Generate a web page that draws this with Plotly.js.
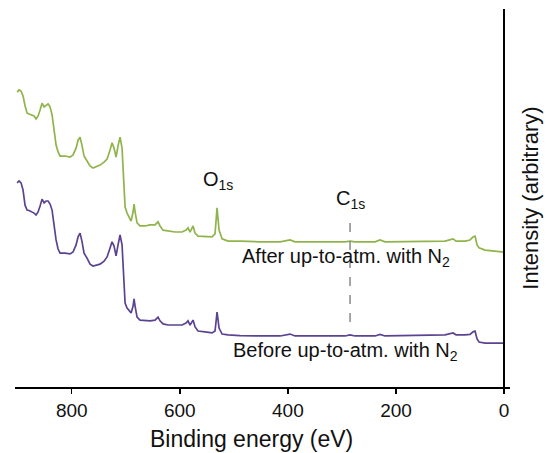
<!DOCTYPE html>
<html>
<head>
<meta charset="utf-8">
<script src="https://cdn.plot.ly/plotly-3.0.1.min.js"></script>
<style>html,body{margin:0;padding:0;background:#fff;}#chart{width:549px;height:453px;}</style>
</head>
<body>
<div id="chart"></div>
<script>
// Binding energy (eV), shared by both spectra
const energy = [901, 897.5, 893.8, 890.1, 886.4, 882.7, 879, 873.4, 869.7, 866, 862.3, 858.6, 854.9, 851.2, 847.5, 843.8, 840.1, 836.4, 832.7, 829, 825.3, 821.6, 812.4, 803.1, 797.6, 792, 788.3, 784.6, 780.9, 777.2, 771.7, 766.1, 760.6, 755, 747.6, 740.2, 734.6, 729.1, 725.4, 721.7, 718, 714.3, 710.6, 706.9, 705, 703.2, 701.3, 697.6, 693.9, 690.2, 686.5, 684.7, 682.8, 679.1, 673.6, 664.3, 655.1, 645.8, 640.3, 636.6, 631, 621.8, 608.8, 595.9, 588.5, 584.8, 581.1, 575.5, 571.8, 566.3, 553.3, 540.3, 534.8, 531.1, 527.4, 521.8, 510.7, 488.5, 451.5, 414.5, 396, 386.8, 340.5, 294.3, 285, 275.8, 238.7, 229.5, 220.2, 155.4, 109.2, 94.4, 88.8, 72.2, 63, 57.4, 53.7, 50, 46.3, 35.2, 16.7, 0];

// Intensity (arbitrary units, offset for display)
const afterN2 = [78.0, 78.6, 78.3, 77.0, 74.4, 72.5, 72.2, 72.0, 71.7, 70.9, 71.7, 73.3, 75.1, 74.1, 74.6, 74.9, 74.1, 72.0, 68.0, 64.0, 62.2, 61.1, 61.1, 60.8, 61.4, 63.2, 65.3, 66.1, 63.8, 61.1, 59.8, 58.5, 57.9, 58.2, 58.7, 59.5, 60.3, 62.7, 64.6, 63.2, 60.8, 63.8, 66.1, 63.2, 57.4, 49.5, 47.6, 46.0, 45.0, 43.9, 46.3, 48.4, 46.3, 43.4, 42.6, 42.6, 42.9, 42.9, 43.7, 42.6, 41.5, 41.3, 41.0, 41.0, 41.5, 42.1, 41.0, 42.6, 40.7, 39.9, 39.9, 39.7, 40.5, 47.4, 41.5, 39.2, 38.6, 38.6, 38.4, 38.4, 38.9, 38.4, 38.4, 38.4, 38.6, 38.4, 38.4, 38.9, 38.4, 38.5, 38.6, 39.2, 38.6, 38.6, 38.9, 39.7, 39.9, 37.6, 36.8, 36.2, 36.0, 35.7];

const beforeN2 = [54.0, 54.5, 54.0, 52.1, 48.1, 46.8, 46.7, 46.4, 46.0, 45.5, 46.3, 47.9, 49.7, 48.7, 49.2, 49.2, 48.4, 46.8, 42.9, 38.9, 36.5, 35.4, 35.4, 35.2, 35.7, 37.6, 39.7, 40.7, 38.4, 35.4, 34.1, 32.5, 32.0, 32.3, 32.5, 33.3, 34.4, 36.8, 38.4, 37.3, 34.7, 37.6, 40.2, 37.6, 32.3, 23.8, 22.2, 20.9, 20.1, 19.6, 21.4, 23.3, 21.4, 18.5, 17.7, 17.5, 17.5, 17.7, 18.5, 17.5, 16.7, 16.4, 16.4, 16.4, 16.9, 17.5, 16.4, 17.7, 15.9, 14.8, 14.6, 14.3, 14.8, 19.8, 15.6, 14.0, 13.8, 13.6, 13.5, 13.5, 14.0, 13.5, 13.5, 13.5, 13.8, 13.5, 13.5, 13.9, 13.5, 13.6, 13.8, 14.3, 13.8, 13.8, 13.9, 14.6, 14.8, 12.7, 11.9, 11.6, 11.6, 11.6];

const tickValues = [800, 600, 400, 200, 0];
const tickLabels = ["800", "600", "400", "200", "0"];
const xTitle = "Binding energy (eV)";
const yTitle = "Intensity (arbitrary)";
const seriesLabels = ["After up-to-atm. with N<sub>2</sub>", "Before up-to-atm. with N<sub>2</sub>"];
const peakLabels = ["O<sub>1s</sub>", "C<sub>1s</sub>"];
const peakEnergies = [530, 285];
const c1sMarkerRange = [17.2, 44.7];

const green = "#8fb44b";
const purple = "#5b4391";
const font = "Liberation Sans, Arial, sans-serif";

const traces = [
  {x: energy, y: afterN2, type: "scatter", mode: "lines", line: {color: green, width: 1.7}, hoverinfo: "skip"},
  {x: energy, y: beforeN2, type: "scatter", mode: "lines", line: {color: purple, width: 1.7}, hoverinfo: "skip"}
];

const layout = {
  width: 549, height: 453,
  margin: {l: 15, r: 39, t: 9, b: 66},
  paper_bgcolor: "#fff", plot_bgcolor: "#fff",
  showlegend: false,
  font: {family: font, color: "#111"},
  xaxis: {
    range: [905, -11],
    showgrid: false, zeroline: false,
    showline: true, linecolor: "#000", linewidth: 2,
    ticks: "outside", ticklen: 5, tickwidth: 1.5, tickcolor: "#000",
    tickvals: tickValues, ticktext: tickLabels,
    tickfont: {size: 19, family: font, color: "#111"}
  },
  yaxis: {
    range: [0, 100],
    anchor: "free", position: 0.9879, side: "right",
    showgrid: false, zeroline: false,
    showline: true, linecolor: "#000", linewidth: 2,
    ticks: "", showticklabels: false,
    title: {text: yTitle, font: {size: 22, family: font, color: "#111"}, standoff: 18}
  },
  shapes: [{
    type: "line", xref: "x", yref: "y",
    x0: peakEnergies[1], x1: peakEnergies[1], y0: c1sMarkerRange[0], y1: c1sMarkerRange[1],
    line: {color: "#8a8a8a", width: 1.5, dash: "dash"}
  }],
  annotations: [
    {x: 0.478, y: -0.138, xref: "paper", yref: "paper", text: xTitle, showarrow: false, xanchor: "center", yanchor: "middle", font: {size: 23, family: font, color: "#111"}},
    {x: peakEnergies[0], y: 54.5, xref: "x", yref: "y", text: peakLabels[0], showarrow: false, xanchor: "center", yanchor: "middle", font: {size: 20, family: font, color: "#111"}},
    {x: peakEnergies[1], y: 49.5, xref: "x", yref: "y", text: peakLabels[1], showarrow: false, xanchor: "center", yanchor: "middle", font: {size: 20, family: font, color: "#111"}},
    {x: 292, y: 34.2, xref: "x", yref: "y", text: seriesLabels[0], showarrow: false, xanchor: "center", yanchor: "middle", font: {size: 20, family: font, color: "#111"}},
    {x: 294, y: 9.5, xref: "x", yref: "y", text: seriesLabels[1], showarrow: false, xanchor: "center", yanchor: "middle", font: {size: 20, family: font, color: "#111"}}
  ]
};

Plotly.newPlot("chart", traces, layout, {displayModeBar: false, staticPlot: true});
</script>
</body>
</html>
